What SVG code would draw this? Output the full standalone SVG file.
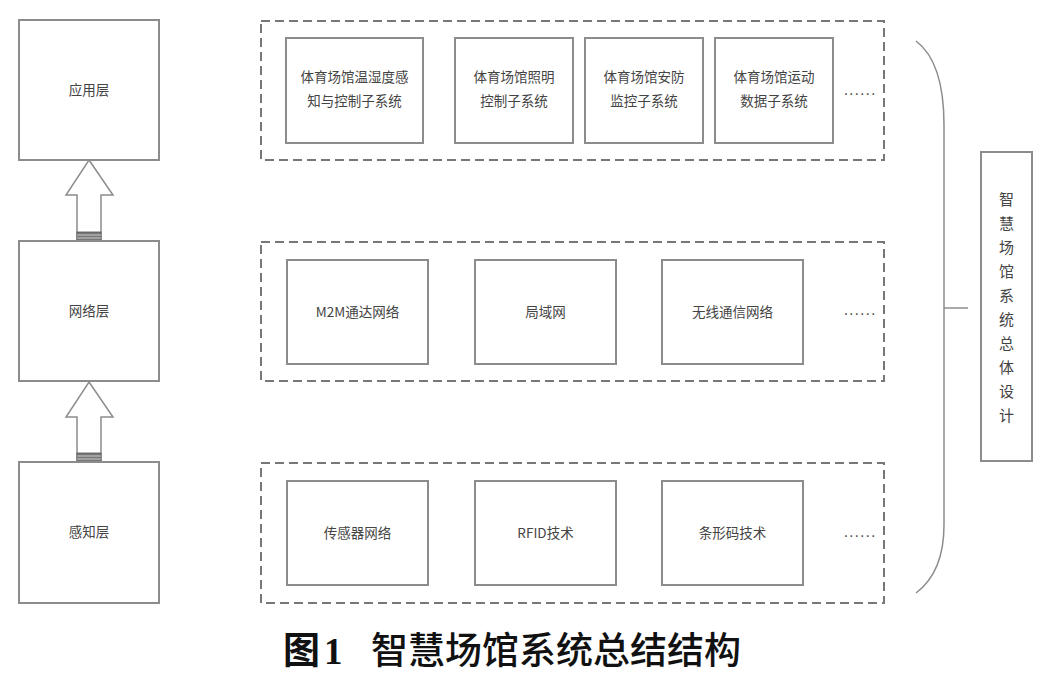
<svg xmlns="http://www.w3.org/2000/svg" width="1050" height="680" viewBox="0 0 1050 680">
<style>
.box{fill:#fff;stroke:#8c8c8c;stroke-width:2}
.dash{fill:none;stroke:#777;stroke-width:2;stroke-dasharray:9 5}
.t{font-family:"Noto Sans CJK SC","Liberation Sans",sans-serif;font-size:13.5px;fill:#444;text-anchor:middle}
.v{font-family:"Noto Sans CJK SC","Liberation Sans",sans-serif;font-size:15px;fill:#444;text-anchor:middle}
.dots{font-family:"Liberation Sans",sans-serif;font-size:16px;fill:#555;text-anchor:middle;letter-spacing:1px}
.arrow{fill:#fff;stroke:#8c8c8c;stroke-width:1.5}
.band{fill:#777;stroke:#555;stroke-width:0.8}
.line{fill:none;stroke:#8c8c8c;stroke-width:1.5}
.cap{font-family:"Noto Sans CJK SC",sans-serif;font-size:37px;fill:#111;font-weight:500}
</style>
<rect width="1050" height="680" fill="#fff"/>
<g id="connectors">
<g id="arrow1">
<path class="arrow" d="M89 160 L113 195 L101 195 L101 241 L77 241 L77 195 L66 195 Z"/>
<rect class="band" x="77" y="232" width="24" height="9"/>
<line x1="77" y1="235" x2="101" y2="235" stroke="#ccc" stroke-width="1"/>
<line x1="77" y1="238" x2="101" y2="238" stroke="#ccc" stroke-width="1"/>
</g>
<g id="arrow2">
<path class="arrow" d="M89 382 L113 417 L101 417 L101 462 L77 462 L77 417 L66 417 Z"/>
<rect class="band" x="77" y="453" width="24" height="9"/>
<line x1="77" y1="456" x2="101" y2="456" stroke="#ccc" stroke-width="1"/>
<line x1="77" y1="459" x2="101" y2="459" stroke="#ccc" stroke-width="1"/>
</g>
<path id="brace" class="line" d="M916 41 Q944 62 944 125 L944 525 Q944 572 916 593"/>
<line id="brace-tick" class="line" x1="944" y1="308" x2="968" y2="308"/>
</g>
<g id="layer-app"><rect class="box" x="19" y="20" width="140" height="140"/><text class="t" x="89" y="95">应用层</text></g>
<g id="layer-net"><rect class="box" x="19" y="241" width="140" height="140"/><text class="t" x="89" y="316">网络层</text></g>
<g id="layer-sense"><rect class="box" x="19" y="462" width="140" height="141"/><text class="t" x="89" y="537">感知层</text></g>
<g id="group-app">
<rect class="dash" x="261" y="21" width="623" height="139"/>
<g id="app1"><rect class="box" x="286" y="38" width="137" height="105"/><text class="t" x="354.5" y="82">体育场馆温湿度感</text><text class="t" x="354.5" y="106">知与控制子系统</text></g>
<g id="app2"><rect class="box" x="455" y="38" width="118" height="105"/><text class="t" x="514" y="82">体育场馆照明</text><text class="t" x="514" y="106">控制子系统</text></g>
<g id="app3"><rect class="box" x="585" y="38" width="118" height="105"/><text class="t" x="644" y="82">体育场馆安防</text><text class="t" x="644" y="106">监控子系统</text></g>
<g id="app4"><rect class="box" x="715" y="38" width="118" height="105"/><text class="t" x="774" y="82">体育场馆运动</text><text class="t" x="774" y="106">数据子系统</text></g>
<text class="dots" x="860" y="95">......</text>
</g>
<g id="group-net">
<rect class="dash" x="261" y="242" width="623" height="139"/>
<g id="net1"><rect class="box" x="287" y="260" width="141" height="104"/><text class="t" x="357.5" y="317">M2M通达网络</text></g>
<g id="net2"><rect class="box" x="475" y="260" width="141" height="104"/><text class="t" x="545.5" y="317">局域网</text></g>
<g id="net3"><rect class="box" x="662" y="260" width="141" height="104"/><text class="t" x="732.5" y="317">无线通信网络</text></g>
<text class="dots" x="860" y="315">......</text>
</g>
<g id="group-sense">
<rect class="dash" x="261" y="463" width="623" height="140"/>
<g id="sense1"><rect class="box" x="287" y="481" width="141" height="104"/><text class="t" x="357.5" y="538">传感器网络</text></g>
<g id="sense2"><rect class="box" x="475" y="481" width="141" height="104"/><text class="t" x="545.5" y="538">RFID技术</text></g>
<g id="sense3"><rect class="box" x="662" y="481" width="141" height="104"/><text class="t" x="732.5" y="538">条形码技术</text></g>
<text class="dots" x="860" y="537">......</text>
</g>
<g id="overall">
<rect class="box" x="981" y="152" width="51" height="309"/>
<text class="v" x="1006.5" y="205">智</text>
<text class="v" x="1006.5" y="229">慧</text>
<text class="v" x="1006.5" y="253">场</text>
<text class="v" x="1006.5" y="277">馆</text>
<text class="v" x="1006.5" y="301">系</text>
<text class="v" x="1006.5" y="325">统</text>
<text class="v" x="1006.5" y="349">总</text>
<text class="v" x="1006.5" y="373">体</text>
<text class="v" x="1006.5" y="397">设</text>
<text class="v" x="1006.5" y="421">计</text>
</g>
<text class="cap" x="283" y="664"><tspan font-weight="700">图</tspan><tspan font-family="Liberation Serif,serif" font-weight="700" dx="4">1</tspan><tspan x="371">智慧场馆系统总结结构</tspan></text>
</svg>
